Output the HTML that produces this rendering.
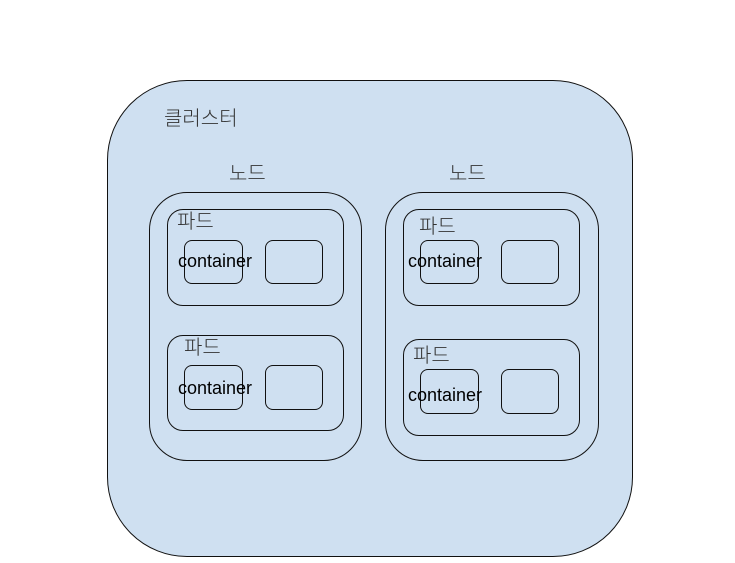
<!DOCTYPE html><html><head><meta charset="utf-8"><style>
body{margin:0;width:735px;height:563px;background:#fff;position:relative;overflow:hidden;font-family:"Liberation Sans","Noto Sans CJK KR",sans-serif}
.b{position:absolute;box-sizing:border-box;border:1px solid #111;background:#cfe0f1}
.t{position:absolute;font-size:20px;color:#333;line-height:1;white-space:nowrap;font-weight:300}
.c{position:absolute;font-size:18px;color:#000;line-height:1;white-space:nowrap;transform:translate(-50%,-50%)}
</style></head><body>
<div class="b" style="left:107px;top:80px;width:526px;height:477px;border-radius:80px"></div>
<div class="t" style="left:164px;top:109px">클러스터</div>
<div class="t" style="left:229px;top:164px">노드</div>
<div class="t" style="left:449px;top:164px">노드</div>
<div class="b" style="left:149px;top:192px;width:213px;height:269px;border-radius:38px"></div>
<div class="b" style="left:385px;top:192px;width:214px;height:269px;border-radius:38px"></div>
<div class="b" style="left:167px;top:209px;width:177px;height:97px;border-radius:16px"></div>
<div class="b" style="left:167px;top:335px;width:177px;height:96px;border-radius:16px"></div>
<div class="b" style="left:403px;top:209px;width:177px;height:97px;border-radius:16px"></div>
<div class="b" style="left:403px;top:339px;width:177px;height:97px;border-radius:16px"></div>
<div class="t" style="left:177px;top:212px">파드</div>
<div class="t" style="left:184px;top:338px">파드</div>
<div class="t" style="left:419px;top:217px">파드</div>
<div class="t" style="left:413px;top:346px">파드</div>
<div class="b" style="left:184px;top:240px;width:59px;height:44px;border-radius:8px"></div>
<div class="b" style="left:265px;top:240px;width:58px;height:44px;border-radius:8px"></div>
<div class="b" style="left:184px;top:365px;width:59px;height:45px;border-radius:8px"></div>
<div class="b" style="left:265px;top:365px;width:58px;height:45px;border-radius:8px"></div>
<div class="b" style="left:420px;top:240px;width:59px;height:44px;border-radius:8px"></div>
<div class="b" style="left:501px;top:240px;width:58px;height:44px;border-radius:8px"></div>
<div class="b" style="left:420px;top:369px;width:59px;height:45px;border-radius:8px"></div>
<div class="b" style="left:501px;top:369px;width:58px;height:45px;border-radius:8px"></div>
<div class="c" style="left:215px;top:261px">container</div>
<div class="c" style="left:215px;top:388px">container</div>
<div class="c" style="left:445px;top:261px">container</div>
<div class="c" style="left:445px;top:395px">container</div>
</body></html>
